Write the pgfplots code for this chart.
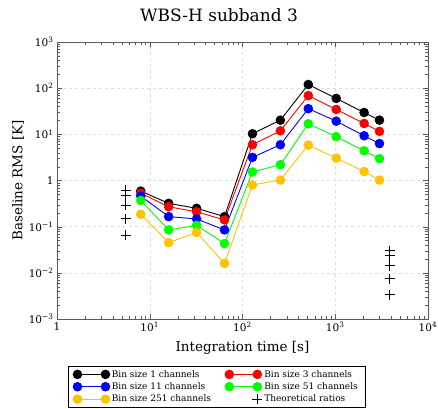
\documentclass[border=0pt]{standalone}
\usepackage{fontspec}
\setmainfont{DejaVu Serif}
\usepackage{pgfplots}
\pgfplotsset{compat=1.18}
\definecolor{myorange}{rgb}{1,0.76,0}
\definecolor{mygreen}{rgb}{0,1,0}
\pgfplotsset{
  pairleg/.style={legend image code/.code={\draw[mark repeat=2,mark phase=1,##1] plot coordinates {(0pt,0pt) (14pt,0pt) (28pt,0pt)};}},
  crossleg/.style={legend image code/.code={\draw[##1] plot coordinates {(28pt,0pt)};}}
}
\begin{document}
\begin{tikzpicture}[x=1pt,y=1pt]
\path[use as bounding box] (0,0) rectangle (438,408);
\node[font=\fontsize{17}{20}\selectfont] at (219,393) {WBS-H subband 3};
\begin{axis}[
  at={(57pt,89pt)}, anchor=south west,
  scale only axis, width=371pt, height=277pt,
  xmode=log, ymode=log,
  xmin=1, xmax=10000, ymin=1e-3, ymax=1e3,
  xtick={1,10,100,1000,10000},
  xticklabels={1,10\textsuperscript{1},10\textsuperscript{2},10\textsuperscript{3},10\textsuperscript{4}},
  ytick={1e-3,1e-2,1e-1,1,10,100,1000},
  yticklabels={10\textsuperscript{−3},10\textsuperscript{−2},10\textsuperscript{−1},1,10\textsuperscript{1},10\textsuperscript{2},10\textsuperscript{3}},
  minor xtick={2,3,4,5,6,7,8,9,20,30,40,50,60,70,80,90,200,300,400,500,600,700,800,900,2000,3000,4000,5000,6000,7000,8000,9000},
  minor ytick={2e-3,3e-3,4e-3,5e-3,6e-3,7e-3,8e-3,9e-3,2e-2,3e-2,4e-2,5e-2,6e-2,7e-2,8e-2,9e-2,0.2,0.3,0.4,0.5,0.6,0.7,0.8,0.9,2,3,4,5,6,7,8,9,20,30,40,50,60,70,80,90,200,300,400,500,600,700,800,900},
  tick label style={font=\fontsize{10.5}{12}\selectfont},
  major tick length=5pt, minor tick length=3pt,
  tick style={gray!70!black},
  axis line style={gray!70!black},
  xmajorgrids, ymajorgrids,
  major grid style={dashed, gray!25},
  xlabel={Integration time [s]},
  ylabel={Baseline RMS [K]},
  label style={font=\fontsize{13.5}{15}\selectfont},
  xlabel style={at={(axis description cs:0.5,-0.1047)}, anchor=center},
  ylabel style={at={(axis description cs:-0.105,0.5)}, anchor=center},
  legend style={at={(0.0296,-0.1697)}, anchor=north west, draw=black,
    font=\fontsize{9}{10}\selectfont, legend columns=2,
    /tikz/every even column/.append style={column sep=12pt},
    inner xsep=5pt, inner ysep=2pt, row sep=0pt},
  legend cell align=left,
  pairleg,
  every axis plot/.append style={line width=0.9pt, mark=*, mark size=4.3pt},
]
\addplot[black, mark options={fill=black}] coordinates {
(8,0.59) (16,0.32) (32,0.25) (64,0.165) (128,10.3) (256,20.3) (512,120) (1024,60) (2048,29.7) (3000,20.3)};
\addlegendentry{Bin size 1 channels}
\addplot[red, mark options={fill=red}] coordinates {
(8,0.53) (16,0.27) (32,0.21) (64,0.14) (128,5.95) (256,11.9) (512,69) (1024,34.6) (2048,17.2) (3000,11.6)};
\addlegendentry{Bin size 3 channels}
\addplot[blue, mark options={fill=blue}] coordinates {
(8,0.46) (16,0.165) (32,0.147) (64,0.085) (128,3.17) (256,5.95) (512,36) (1024,19.3) (2048,9.3) (3000,6.3)};
\addlegendentry{Bin size 11 channels}
\addplot[mygreen, mark options={fill=mygreen}] coordinates {
(8,0.37) (16,0.085) (32,0.107) (64,0.043) (128,1.53) (256,2.2) (512,16.9) (1024,8.9) (2048,4.4) (3000,2.97)};
\addlegendentry{Bin size 51 channels}
\addplot[myorange, mark options={fill=myorange}] coordinates {
(8,0.186) (16,0.045) (32,0.075) (64,0.016) (128,0.80) (256,1.02) (512,5.85) (1024,3.06) (2048,1.56) (3000,1.02)};
\addlegendentry{Bin size 251 channels}
\addplot[black, only marks, mark=+, mark size=5pt, line width=0.9pt, crossleg] coordinates {
(5.5,0.62) (5.5,0.47) (5.5,0.295) (5.5,0.147) (5.5,0.066)
(3850,0.030) (3850,0.0237) (3850,0.0144) (3850,0.0075) (3850,0.00335)};
\addlegendentry{Theoretical ratios}
\end{axis}
\end{tikzpicture}
\end{document}
